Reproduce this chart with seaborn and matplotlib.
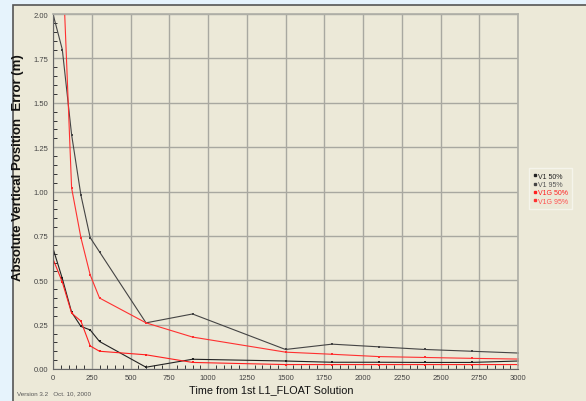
import matplotlib
matplotlib.use("Agg")
import matplotlib.pyplot as plt
import seaborn as sns
import pandas as pd
from matplotlib.patches import Rectangle
from matplotlib.ticker import MultipleLocator, FormatStrFormatter

# data
t_v1 = [0, 60, 120, 180, 240, 300, 600, 900, 1500, 1800, 2100, 2400, 2700, 3000]
v1_50 = [0.68, 0.51, 0.32, 0.24, 0.22, 0.155, 0.01, 0.055, 0.045, 0.038, 0.038, 0.037, 0.037, 0.045]
v1_95 = [2.00, 1.80, 1.32, 0.98, 0.74, 0.66, 0.26, 0.31, 0.11, 0.14, 0.125, 0.11, 0.10, 0.09]

t_v1g = [0, 60, 120, 180, 240, 300, 600, 900, 1500, 1800, 2100, 2400, 2700, 3000]
v1g_50 = [0.62, 0.49, 0.315, 0.27, 0.13, 0.10, 0.08, 0.037, 0.025, 0.025, 0.025, 0.025, 0.025, 0.025]
v1g_95 = [3.60, 2.34, 1.02, 0.74, 0.53, 0.40, 0.26, 0.18, 0.095, 0.083, 0.07, 0.065, 0.06, 0.056]

series_names = ["V1 50%", "V1 95%", "V1G 50%", "V1G 95%"]
series_colors = ["#222222", "#444444", "#ff2020", "#ff3030"]

rows = []
for name, t, vals in zip(series_names, [t_v1, t_v1, t_v1g, t_v1g], [v1_50, v1_95, v1g_50, v1g_95]):
    for x, y in zip(t, vals):
        rows.append({"Time": x, "Error": y, "Series": name})
df = pd.DataFrame(rows)

sns.set_theme(style="white")
plt.rcParams['font.family'] = ['Liberation Sans', 'DejaVu Sans']

beige = "#ece9d8"
fig = plt.figure(figsize=(5.86, 4.02), dpi=100)
fig.patch.set_facecolor("#e6f3fc")
fig.patches.append(Rectangle((13 / 586, -0.01), 1.0, (402 - 6) / 402 + 0.01,
                             transform=fig.transFigure, facecolor=beige,
                             edgecolor="#555555", linewidth=1.2, zorder=-5))

ax = fig.add_axes([53 / 586, 32 / 402, 465 / 586, 355 / 402])
ax.set_zorder(2)
ax.set_facecolor(beige)

sns.lineplot(data=df, x="Time", y="Error", hue="Series", palette=series_colors,
             hue_order=series_names, marker="s", markersize=1.6, markeredgewidth=0,
             linewidth=0.8, ax=ax, legend=False, sort=False, estimator=None)

ax.set_xlim(0, 3000)
ax.set_ylim(0, 2.0)
ax.xaxis.set_major_locator(MultipleLocator(250))
ax.xaxis.set_minor_locator(MultipleLocator(50))
ax.yaxis.set_major_locator(MultipleLocator(0.25))
ax.yaxis.set_minor_locator(MultipleLocator(0.05))
ax.yaxis.set_major_formatter(FormatStrFormatter("%.2f"))
ax.grid(True, which="major", color="#a8a8a0", linewidth=1.0)
ax.set_axisbelow(True)
ax.tick_params(axis="both", which="both", direction="in", labelsize=5.5,
               labelcolor="#444444", color="#333333")
ax.tick_params(which="major", length=4, width=0.8)
ax.tick_params(which="minor", length=3, width=0.7, left=True, bottom=True)
for side in ["top", "right"]:
    ax.spines[side].set_color("#b0b0a8")
for side in ["left", "bottom"]:
    ax.spines[side].set_color("#666666")
    ax.spines[side].set_linewidth(0.8)

ax.set_xlabel("Time from 1st L1_FLOAT Solution", fontsize=7.8, color="#111111")
ax.xaxis.set_label_coords(0.469, -0.043)
ax.set_ylabel("Absolute Vertical Position  Error (m)", fontsize=9.5, color="#111111",
              fontweight="bold")
ax.yaxis.set_label_coords(-0.062, 0.57)

# legend box to the right of the plot
leg_handles = [plt.Line2D([], [], color=c, marker="s", markersize=1.5, linewidth=0) for c in series_colors]
leg = fig.legend(leg_handles, series_names, loc="upper left",
                 bbox_to_anchor=(526 / 586, 1 - 166 / 402), fontsize=5,
                 frameon=True, fancybox=False, handlelength=0.3, handletextpad=0.3,
                 borderpad=0.6, labelspacing=0.2)
leg.get_frame().set_facecolor(beige)
leg.get_frame().set_edgecolor("#f8f8f0")
for txt, c in zip(leg.get_texts(), ["#222222", "#555555", "#ff2020", "#ff5050"]):
    txt.set_color(c)

fig.text(17 / 586, 1 - 394 / 402, "Version 3.2   Oct. 10, 2000", fontsize=4.5,
         color="#555555", va="center")

fig.savefig("out.png", dpi=100, facecolor=fig.get_facecolor())
